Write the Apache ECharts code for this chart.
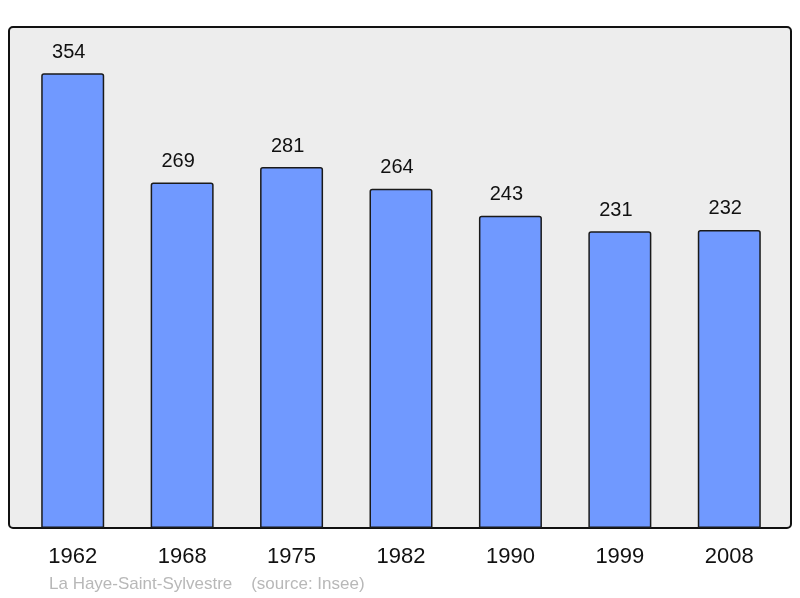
<!DOCTYPE html>
<html>
<head>
<meta charset="utf-8">
<script src="https://cdn.jsdelivr.net/npm/echarts@6/dist/echarts.min.js"></script>
<style>
  html, body { margin: 0; padding: 0; background: #fff; }
  #chart { width: 800px; height: 598px; }
</style>
</head>
<body>
<div id="chart"></div>
<script>
// années et population
const years = ['1962', '1968', '1975', '1982', '1990', '1999', '2008']
const population = [354, 269, 281, 264, 243, 231, 232]
const caption = 'La Haye-Saint-Sylvestre    (source: Insee)'

const chart = echarts.init(document.getElementById('chart'))
chart.setOption({
  animation: false,
  textStyle: { fontFamily: 'Liberation Sans, Arial, sans-serif' },
  graphic: [
    {
      type: 'rect',
      z: -10,
      shape: { x: 9, y: 27, width: 782, height: 501, r: 4 },
      style: { fill: '#ededed', stroke: '#111', lineWidth: 2 }
    },
    {
      type: 'text',
      left: 49,
      top: 576,
      style: { text: caption, fill: '#b8b8b8', font: '17px Liberation Sans, Arial, sans-serif' }
    }
  ],
  grid: { left: 18, right: 16, top: 27, bottom: 70 },
  xAxis: {
    type: 'category',
    data: years,
    axisLine: { show: false },
    axisTick: { show: false },
    axisLabel: { color: '#111', fontSize: 22, margin: 18 }
  },
  yAxis: {
    type: 'value',
    min: 0,
    max: 390,
    show: false,
    splitLine: { show: false }
  },
  series: [
    {
      type: 'bar',
      data: population,
      barWidth: 63,
      itemStyle: {
        color: '#7099ff',
        borderColor: '#1a1a1a',
        borderWidth: 1.5,
        borderRadius: [2, 2, 0, 0]
      },
      label: {
        show: true,
        position: 'top',
        distance: 11,
        offset: [-4, 0],
        color: '#111',
        fontSize: 20
      }
    }
  ]
})
</script>
</body>
</html>
